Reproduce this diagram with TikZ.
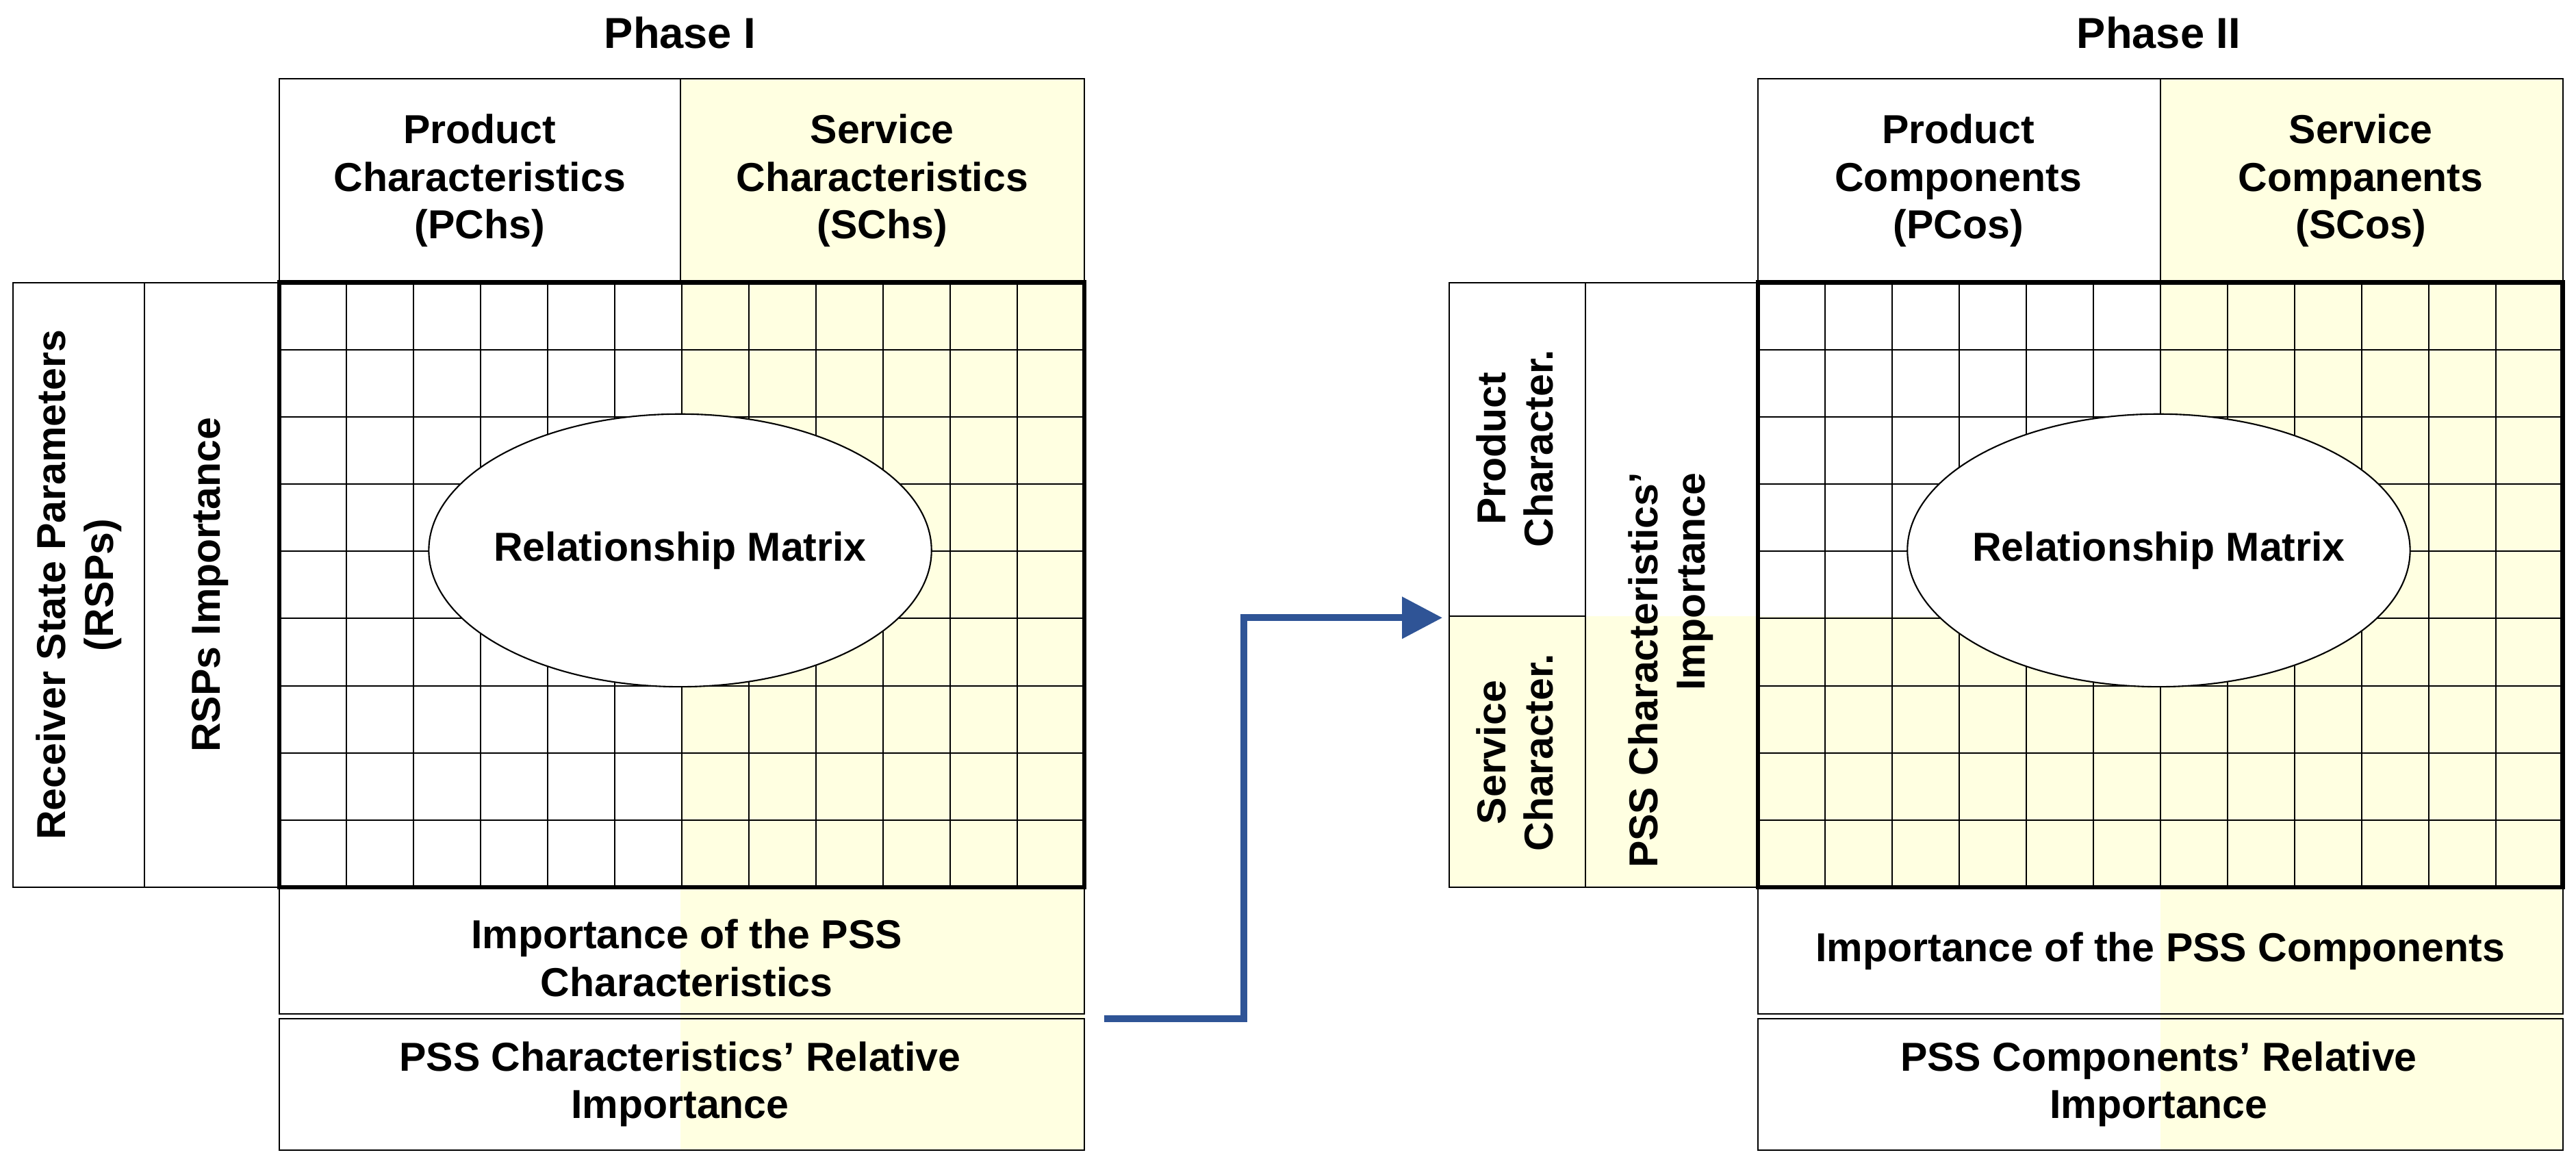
\documentclass[tikz,border=0pt]{standalone}
\usepackage{fontspec}
\setmainfont{Liberation Sans}
\usetikzlibrary{arrows.meta}
\definecolor{pale}{RGB}{255,255,225}
\definecolor{arrowblue}{RGB}{47,84,150}
\tikzset{
  lbl/.style={font=\bfseries\fontsize{14}{16.5}\selectfont, align=center, inner sep=0pt},
  ttl/.style={font=\bfseries\fontsize{15}{18}\selectfont, inner sep=0pt},
  box/.style={draw=black, line width=0.5pt},
}
\begin{document}
\begin{tikzpicture}[x=0.02cm, y=-0.02cm]
\useasboundingbox (0,0) rectangle (1568,712);
% ---------- Phase I ----------
\fill[pale] (414,48) rectangle (660,172);
\fill[pale] (414,172) rectangle (660,540);
\fill[pale] (414,540) rectangle (660,700);
\draw[box] (170,48) rectangle (660,172);
\draw[box] (414,48) -- (414,172);
\draw[box] (8,172) rectangle (88,540);
\draw[box] (88,172) rectangle (170,540);
\foreach \i in {1,...,11} \draw[box] (170+\i*40.83,172) -- (170+\i*40.83,540);
\foreach \j in {1,...,8} \draw[box] (170,172+\j*40.89) -- (660,172+\j*40.89);
\draw[line width=1.6pt] (170,172) rectangle (660,540);
\draw[box,fill=white] (414,335) ellipse (153 and 83);
\draw[box] (170,540) rectangle (660,617);
\draw[box] (170,620) rectangle (660,700);
\node[ttl] (t1) at (414,20) {Phase I};
\node[lbl] (pch) at (292,110) {Product\\Characteristics\\(PChs)};
\node[lbl] (sch) at (537,110) {Service\\Characteristics\\(SChs)};
\node[lbl, rotate=90] (rsp) at (48,356) {Receiver State Parameters\\(RSPs)};
\node[lbl, rotate=90] (rspi) at (128,356) {RSPs Importance};
\node[lbl] (rm1) at (414,335) {Relationship Matrix};
\node[lbl] (imp1) at (418,583) {Importance of the PSS\\Characteristics};
\node[lbl] (rel1) at (414,660) {PSS Characteristics’ Relative\\Importance};
% ---------- Phase II ----------
\fill[pale] (1315,48) rectangle (1560,172);
\fill[pale] (1315,172) rectangle (1560,540);
\fill[pale] (882,375) rectangle (1560,540);
\fill[pale] (1315,540) rectangle (1560,700);
\draw[box] (1070,48) rectangle (1560,172);
\draw[box] (1315,48) -- (1315,172);
\draw[box] (882,172) rectangle (965,540);
\draw[box] (965,172) rectangle (1070,540);
\draw[box] (882,375) -- (965,375);
\foreach \i in {1,...,11} \draw[box] (1070+\i*40.83,172) -- (1070+\i*40.83,540);
\foreach \j in {1,...,8} \draw[box] (1070,172+\j*40.89) -- (1560,172+\j*40.89);
\draw[line width=1.6pt] (1070,172) rectangle (1560,540);
\draw[box,fill=white] (1314,335) ellipse (153 and 83);
\draw[box] (1070,540) rectangle (1560,617);
\draw[box] (1070,620) rectangle (1560,700);
\node[ttl] (t2) at (1314,20) {Phase II};
\node[lbl] (pco) at (1192,110) {Product\\Components\\(PCos)};
\node[lbl] (sco) at (1437,110) {Service\\Companents\\(SCos)};
\node[lbl, rotate=90] (pc) at (922,273) {Product\\Character.};
\node[lbl, rotate=90] (sc) at (922,458) {Service\\Character.};
\node[lbl, rotate=90, align=right] (pssi) at (1017,408) {PSS Characteristics’\\Importance};
\node[lbl] (rm2) at (1314,335) {Relationship Matrix};
\node[lbl] (imp2) at (1315,579) {Importance of the PSS Components};
\node[lbl] (rel2) at (1314,660) {PSS Components’ Relative\\Importance};
% ---------- arrow ----------
\coordinate (a0) at (672,620);
\coordinate (a1) at (878,376);
\draw[arrowblue, line width=2.4pt, -{Triangle[length=14pt,width=14pt]}]
  (a0) -- (757,620) -- (757,376) -- (a1);
\end{tikzpicture}
\end{document}
